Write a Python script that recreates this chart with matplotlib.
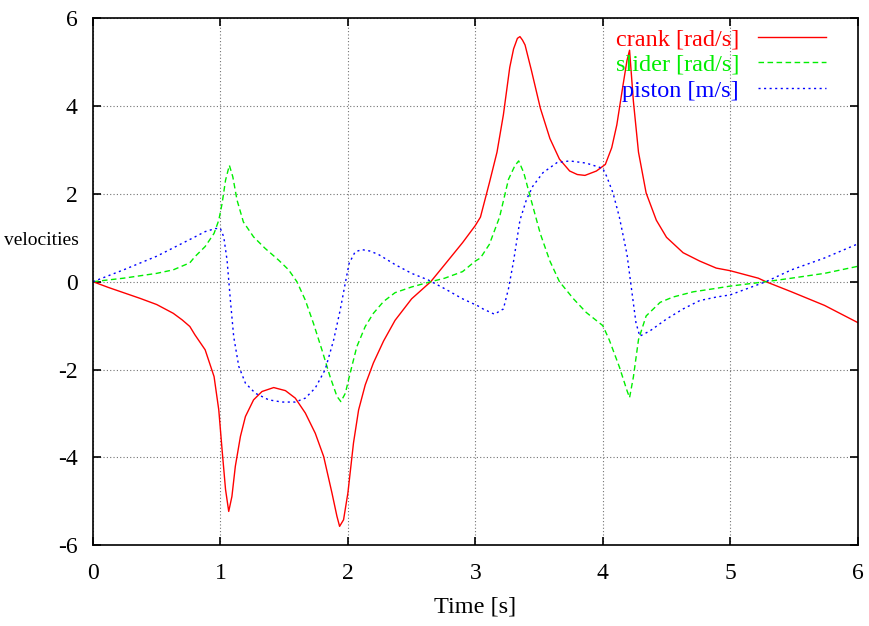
import numpy as np
import matplotlib
matplotlib.use('Agg')
import matplotlib.pyplot as plt
from matplotlib.ticker import FuncFormatter

# datos (tiempo en s)
t_crank = [0.0, 0.12, 0.24, 0.37, 0.5, 0.63, 0.70, 0.76, 0.80, 0.88, 0.95, 0.987, 1.013, 1.04,
           1.065, 1.09, 1.117, 1.157, 1.196, 1.26, 1.326, 1.418, 1.51, 1.587, 1.666, 1.744,
           1.81, 1.875, 1.914, 1.935, 1.966, 2.0, 2.044, 2.084, 2.136, 2.2, 2.28, 2.37, 2.5,
           2.65, 2.76, 2.9, 3.0, 3.04, 3.11, 3.17, 3.22, 3.27, 3.30, 3.33, 3.35, 3.37, 3.39,
           3.44, 3.51, 3.585, 3.66, 3.74, 3.80, 3.86, 3.95, 4.02, 4.07, 4.11, 4.16, 4.19,
           4.21, 4.24, 4.28, 4.34, 4.42, 4.5, 4.63, 4.76, 4.89, 5.0, 5.22, 5.28, 5.48, 5.74,
           5.9, 6.0]
crank = [0.0, -0.13, -0.25, -0.38, -0.52, -0.72, -0.87, -1.02, -1.21, -1.55, -2.16, -2.92, -3.83,
         -4.73, -5.23, -4.89, -4.2, -3.52, -3.07, -2.69, -2.5, -2.41, -2.48, -2.65, -2.99, -3.45,
         -3.98, -4.81, -5.34, -5.57, -5.42, -4.81, -3.67, -2.92, -2.35, -1.85, -1.35, -0.88, -0.39,
         0.0, 0.39, 0.89, 1.28, 1.47, 2.25, 2.95, 3.8, 4.88, 5.3, 5.54, 5.58, 5.5, 5.39,
         4.81, 3.95, 3.26, 2.79, 2.52, 2.44, 2.42, 2.52, 2.67, 3.05, 3.57, 4.5, 5.04,
         5.27, 4.11, 2.95, 2.02, 1.40, 1.01, 0.66, 0.47, 0.31, 0.25, 0.08, 0.0, -0.23, -0.54,
         -0.78, -0.93]

t_slider = [0.0, 0.24, 0.5, 0.63, 0.76, 0.80, 0.88, 0.95, 0.987, 1.013, 1.04, 1.07, 1.097,
            1.13, 1.18, 1.26, 1.35, 1.457, 1.535, 1.6, 1.666, 1.73, 1.796, 1.86, 1.914,
            1.945, 1.98, 2.018, 2.07, 2.136, 2.2, 2.28, 2.37, 2.5, 2.65, 2.76, 2.9, 3.0, 3.04,
            3.11, 3.19, 3.26, 3.31, 3.34, 3.38, 3.43, 3.51, 3.585, 3.66, 3.77, 3.87, 4.0, 4.05,
            4.13, 4.19, 4.21, 4.24, 4.28, 4.34, 4.45, 4.55, 4.71, 4.87, 5.0, 5.28, 5.48, 5.74,
            6.0]
slider = [0.0, 0.08, 0.19, 0.27, 0.43, 0.57, 0.80, 1.10, 1.40, 1.78, 2.31, 2.65, 2.39,
          1.86, 1.36, 1.02, 0.76, 0.49, 0.27, 0.0, -0.42, -0.95, -1.55, -2.16, -2.61,
          -2.73, -2.54, -2.08, -1.48, -1.02, -0.72, -0.45, -0.25, -0.12, 0.0, 0.08, 0.23, 0.47, 0.54,
          0.85, 1.47, 2.33, 2.64, 2.75, 2.48, 1.94, 1.09, 0.47, 0.0, -0.39, -0.70, -1.0, -1.32,
          -1.94, -2.48, -2.64, -2.17, -1.32, -0.78, -0.47, -0.35, -0.23, -0.16, -0.1, 0.0, 0.08, 0.19,
          0.35]

t_piston = [0.0, 0.24, 0.5, 0.80, 0.88, 0.96, 1.0, 1.026, 1.052, 1.078, 1.104, 1.144, 1.196,
            1.274, 1.379, 1.483, 1.587, 1.666, 1.744, 1.822, 1.888, 1.94, 1.979, 2.01, 2.057,
            2.11, 2.17, 2.24, 2.37, 2.5, 2.63, 2.76, 2.9, 3.02, 3.06, 3.15, 3.22, 3.26, 3.3,
            3.35, 3.40, 3.45, 3.53, 3.64, 3.74, 3.87, 4.0, 4.03, 4.08, 4.13, 4.19, 4.225, 4.26,
            4.29, 4.37, 4.5, 4.63, 4.76, 4.89, 5.0, 5.28, 5.48, 5.74, 6.0]
piston = [0.0, 0.27, 0.58, 1.02, 1.14, 1.21, 1.21, 1.02, 0.49, -0.42, -1.25, -1.93, -2.31,
          -2.54, -2.69, -2.74, -2.74, -2.65, -2.42, -2.0, -1.33, -0.64, -0.04, 0.42, 0.68,
          0.73, 0.70, 0.62, 0.39, 0.19, 0.04, -0.16, -0.39, -0.55, -0.62, -0.74, -0.62, -0.16,
          0.47, 1.4, 1.86, 2.17, 2.48, 2.71, 2.75, 2.7, 2.58, 2.4, 2.02, 1.47, 0.62, -0.16,
          -0.93, -1.24, -1.12, -0.85, -0.62, -0.43, -0.35, -0.3, 0.0, 0.27, 0.54, 0.86]

plt.rcParams['font.family'] = ['Liberation Serif', 'DejaVu Serif']

fig = plt.figure(figsize=(8.69, 6.26), dpi=100)
ax = fig.add_axes([0.107, 0.129, 0.880, 0.842])

ax.plot(t_crank, crank, color='#ff0000', lw=1.0, ls='-', label='crank [rad/s]')
ax.plot(t_slider, slider, color='#00ee00', lw=1.0, ls=(0, (4, 2.5)), label='slider [rad/s]')
ax.plot(t_piston, piston, color='#0000ff', lw=1.0, ls=(0, (1.5, 2.5)), label='piston [m/s]')

ax.set_xlim(0, 6)
ax.set_ylim(-6, 6)
ax.set_xticks(range(0, 7))
ax.set_yticks(range(-6, 7, 2))
ax.yaxis.set_major_formatter(FuncFormatter(lambda v, p: '%d' % v))
ax.tick_params(direction='in', length=6, width=1.2, top=True, right=True, labelsize=17)
ax.tick_params(axis='x', pad=13)
ax.tick_params(axis='y', pad=11)
ax.grid(True, color='0.45', ls=(0, (1, 2)), lw=0.8)
for s in ax.spines.values():
    s.set_linewidth(1.2)

ax.set_xlabel('Time [s]', fontsize=17.5, labelpad=9)
ax.set_ylabel('velocities', fontsize=14, rotation=0, ha='left', va='center')
ax.yaxis.set_label_coords(-0.117, 0.579)

leg = ax.legend(loc='upper right', bbox_to_anchor=(0.975, 1.004), frameon=False,
                markerfirst=False, labelcolor='linecolor', fontsize=17.5,
                handlelength=2.8, handletextpad=0.8, labelspacing=0.15,
                borderaxespad=0.1)

fig.savefig('out.png', dpi=100)
